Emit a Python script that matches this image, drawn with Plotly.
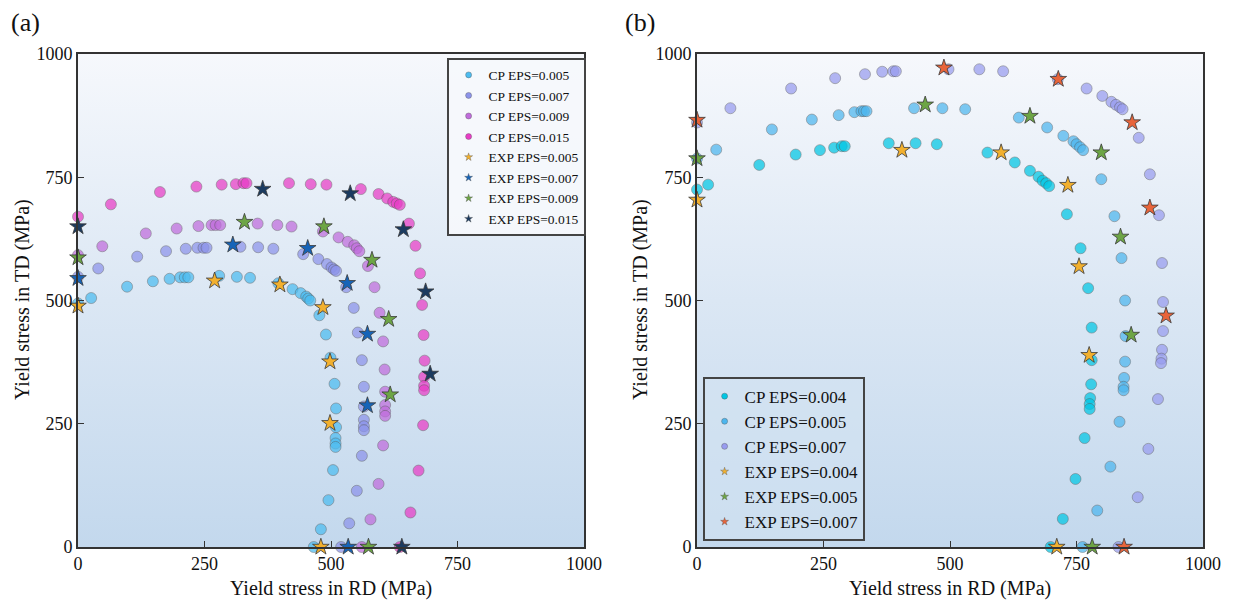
import plotly.graph_objects as go

# ---------------- Data: panel (a) ----------------
cp005_a_x = [0, 26, 97, 148, 181, 202, 211, 218, 279, 314, 340, 396, 424, 440, 451, 455, 459, 477, 490, 499, 507, 510, 510, 509, 509, 509, 504, 495, 480, 466]
cp005_a_y = [494, 505, 528, 539, 544, 547, 547, 547, 550, 548, 546, 535, 523, 515, 508, 504, 500, 470, 431, 384, 331, 281, 243, 221, 210, 203, 156, 95, 36, 0]
cp007_a_x = [0, 40, 117, 174, 213, 236, 248, 254, 321, 356, 386, 445, 475, 492, 501, 506, 510, 530, 545, 553, 561, 565, 565, 565, 565, 565, 561, 551, 536, 520]
cp007_a_y = [548, 565, 589, 600, 605, 607, 607, 607, 609, 608, 605, 594, 584, 574, 567, 563, 560, 527, 485, 435, 379, 325, 285, 258, 245, 237, 185, 114, 48, 0]
cp009_a_x = [0, 48, 134, 195, 238, 264, 272, 281, 355, 394, 422, 484, 515, 533, 546, 551, 556, 573, 586, 596, 603, 606, 607, 607, 607, 607, 603, 594, 578, 561]
cp009_a_y = [592, 610, 636, 646, 651, 653, 653, 653, 656, 653, 650, 640, 628, 619, 612, 606, 600, 570, 527, 475, 417, 360, 315, 288, 275, 266, 206, 128, 56, 0]
cp015_a_x = [0, 65, 162, 234, 284, 312, 327, 333, 417, 460, 491, 559, 594, 611, 623, 630, 636, 654, 667, 676, 680, 683, 685, 684, 684, 684, 682, 673, 657, 636]
cp015_a_y = [670, 695, 720, 731, 735, 736, 738, 738, 738, 736, 735, 726, 716, 707, 700, 697, 694, 656, 611, 555, 491, 430, 378, 345, 327, 318, 247, 155, 70, 0]

exp005_a_x = [0, 270, 399, 484, 498, 498, 480]
exp005_a_y = [489, 540, 532, 486, 376, 251, 0]
exp007_a_x = [0, 306, 454, 532, 572, 572, 534]
exp007_a_y = [545, 613, 606, 535, 432, 287, 0]
exp009_a_x = [0, 329, 486, 581, 614, 617, 574]
exp009_a_y = [587, 659, 650, 582, 462, 309, 0]
exp015_a_x = [0, 365, 538, 643, 687, 696, 640]
exp015_a_y = [650, 726, 717, 644, 518, 351, 0]

# ---------------- Data: panel (b) ----------------
cp004_b_x = [0, 22, 123, 195, 243, 271, 286, 292, 379, 432, 474, 574, 628, 658, 675, 683, 690, 696, 731, 758, 773, 780, 780, 779, 777, 776, 776, 766, 748, 723, 699]
cp004_b_y = [725, 735, 775, 796, 805, 810, 813, 813, 819, 819, 817, 800, 780, 763, 751, 743, 738, 732, 675, 606, 525, 445, 379, 330, 302, 290, 280, 221, 138, 57, 0]
cp005_b_x = [0, 38, 148, 227, 280, 311, 325, 330, 335, 429, 485, 530, 636, 692, 724, 744, 750, 757, 763, 799, 825, 839, 846, 847, 846, 844, 843, 843, 835, 817, 791, 762]
cp005_b_y = [788, 806, 847, 867, 876, 882, 884, 884, 884, 890, 890, 888, 871, 851, 834, 823, 817, 811, 805, 746, 671, 586, 500, 428, 376, 343, 325, 318, 254, 163, 74, 0]
cp007_b_x = [0, 66, 186, 273, 332, 366, 388, 393, 497, 558, 605, 713, 770, 801, 819, 828, 836, 841, 873, 895, 913, 919, 921, 921, 919, 918, 917, 911, 892, 871, 833]
cp007_b_y = [861, 890, 930, 951, 959, 964, 965, 965, 969, 969, 965, 949, 930, 915, 903, 897, 892, 888, 830, 756, 673, 576, 497, 438, 400, 382, 373, 300, 199, 101, 0]

exp004_b_x = [0, 405, 601, 733, 755, 775, 711]
exp004_b_y = [704, 805, 800, 734, 569, 389, 0]
exp005_b_x = [0, 451, 658, 799, 837, 858, 781]
exp005_b_y = [788, 897, 874, 800, 629, 430, 0]
exp007_b_x = [0, 488, 714, 860, 895, 927, 844]
exp007_b_y = [866, 972, 949, 861, 688, 469, 0]

tick_vals = [0, 250, 500, 750, 1000]
tick_text = ["0", "250", "500", "750", "1000"]
x_title = "Yield stress in RD (MPa)"
y_title = "Yield stress in TD (MPa)"

FONT = "Liberation Serif, Times New Roman, serif"

fig = go.Figure()

# background gradients
for xa, ya in (("x", "y"), ("x2", "y2")):
    fig.add_trace(go.Scatter(
        x=[0, 1000, 1000, 0, 0], y=[0, 0, 1000, 1000, 0],
        xaxis=xa, yaxis=ya, mode="none", fill="toself",
        fillgradient=dict(type="vertical",
                          colorscale=[[0, "#c3d8ed"], [0.5, "#dbe7f4"], [1, "#f6f8fc"]]),
        hoverinfo="skip", showlegend=False))


def cp(xs, ys, color, xa, ya):
    fig.add_trace(go.Scatter(
        x=xs, y=ys, xaxis=xa, yaxis=ya, mode="markers", cliponaxis=False,
        marker=dict(symbol="circle", size=11, color=color, opacity=0.72,
                    line=dict(width=0.8, color="rgba(80,80,80,0.7)")),
        showlegend=False))


def exp(xs, ys, color, xa, ya):
    fig.add_trace(go.Scatter(
        x=xs, y=ys, xaxis=xa, yaxis=ya, mode="markers", cliponaxis=False,
        marker=dict(symbol="star", size=12.5, color=color,
                    line=dict(width=0.8, color="#3a3a3a")),
        showlegend=False))


def leg(name, color, symbol, legend, size):
    fig.add_trace(go.Scatter(
        x=[None], y=[None], name=name, mode="markers", legend=legend,
        xaxis="x", yaxis="y",
        marker=dict(symbol=symbol, size=size, color=color,
                    line=dict(width=0.4, color="#555")),
        showlegend=True))


# panel (a)
c_a = ["#4cbcf0", "#8c93ea", "#c06cdc", "#e83cc6"]
e_a = ["#f2b02e", "#1664b8", "#6da545", "#1b3b60"]
cp(cp005_a_x, cp005_a_y, c_a[0], "x", "y")
cp(cp007_a_x, cp007_a_y, c_a[1], "x", "y")
cp(cp009_a_x, cp009_a_y, c_a[2], "x", "y")
cp(cp015_a_x, cp015_a_y, c_a[3], "x", "y")
exp(exp005_a_x, exp005_a_y, e_a[0], "x", "y")
exp(exp007_a_x, exp007_a_y, e_a[1], "x", "y")
exp(exp009_a_x, exp009_a_y, e_a[2], "x", "y")
exp(exp015_a_x, exp015_a_y, e_a[3], "x", "y")

# panel (b)
c_b = ["#00c6e4", "#4db6ee", "#989cef"]
e_b = ["#f2b02e", "#6da545", "#e8643a"]
cp(cp004_b_x, cp004_b_y, c_b[0], "x2", "y2")
cp(cp005_b_x, cp005_b_y, c_b[1], "x2", "y2")
cp(cp007_b_x, cp007_b_y, c_b[2], "x2", "y2")
exp(exp004_b_x, exp004_b_y, e_b[0], "x2", "y2")
exp(exp005_b_x, exp005_b_y, e_b[1], "x2", "y2")
exp(exp007_b_x, exp007_b_y, e_b[2], "x2", "y2")

# legend entries
for n, c in zip(["CP EPS=0.005", "CP EPS=0.007", "CP EPS=0.009", "CP EPS=0.015"], c_a):
    leg(n, c, "circle", "legend", 6)
for n, c in zip(["EXP EPS=0.005", "EXP EPS=0.007", "EXP EPS=0.009", "EXP EPS=0.015"], e_a):
    leg(n, c, "star", "legend", 6)
for n, c in zip(["CP EPS=0.004", "CP EPS=0.005", "CP EPS=0.007"], c_b):
    leg(n, c, "circle", "legend2", 6)
for n, c in zip(["EXP EPS=0.004", "EXP EPS=0.005", "EXP EPS=0.007"], e_b):
    leg(n, c, "star", "legend2", 6)

W, H = 1240, 603
OFF = 8  # page body margin


def px(x):
    return (x - OFF) / W


def py(y):
    return 1 - (y - OFF) / H


ydom = [py(547), py(54)]
xdom_a = [px(78), px(584)]
xdom_b = [px(697), px(1203)]

axis_common = dict(range=[0, 1000], tickvals=tick_vals, ticktext=tick_text,
                   ticks="inside", ticklen=6, tickwidth=1.3, tickcolor="#333",
                   showline=True, linecolor="#333", linewidth=1.6, mirror=True,
                   showgrid=False, zeroline=False, automargin=False,
                   tickfont=dict(family=FONT, size=18, color="#111"),
                   fixedrange=True)

title_font = dict(family=FONT, size=20, color="#111")

fig.update_layout(
    width=W, height=H,
    margin=dict(l=0, r=0, t=0, b=0, autoexpand=False),
    paper_bgcolor="white", plot_bgcolor="rgba(0,0,0,0)",
    font=dict(family=FONT, color="#111"),
    xaxis=dict(domain=xdom_a, anchor="y", **axis_common),
    yaxis=dict(domain=ydom, anchor="x", **axis_common),
    xaxis2=dict(domain=xdom_b, anchor="y2", **axis_common),
    yaxis2=dict(domain=ydom, anchor="x2", **axis_common),
    legend=dict(x=px(447), y=py(58), xanchor="left", yanchor="top",
                bgcolor="rgba(246,248,252,0.9)", bordercolor="#444", borderwidth=1.6,
                font=dict(family=FONT, size=13.5, color="#111"),
                itemwidth=30, tracegroupgap=0),
    legend2=dict(x=px(703), y=py(541), xanchor="left", yanchor="bottom",
                 bgcolor="rgba(210,226,242,0.6)", bordercolor="#444", borderwidth=1.6,
                 font=dict(family=FONT, size=17, color="#111"),
                 itemwidth=30, tracegroupgap=0),
    annotations=[
        dict(text="(a)", x=px(9), y=py(22), xref="paper", yref="paper",
             xanchor="left", yanchor="middle", showarrow=False,
             font=dict(family=FONT, size=26, color="#111")),
        dict(text="(b)", x=px(623), y=py(22), xref="paper", yref="paper",
             xanchor="left", yanchor="middle", showarrow=False,
             font=dict(family=FONT, size=26, color="#111")),
        dict(text=x_title, x=px(331), y=py(588), xref="paper", yref="paper",
             xanchor="center", yanchor="middle", showarrow=False, font=title_font),
        dict(text=x_title, x=px(950), y=py(588), xref="paper", yref="paper",
             xanchor="center", yanchor="middle", showarrow=False, font=title_font),
        dict(text=y_title, x=px(22), y=py(300), xref="paper", yref="paper",
             xanchor="center", yanchor="middle", showarrow=False, textangle=-90,
             font=title_font),
        dict(text=y_title, x=px(640), y=py(300), xref="paper", yref="paper",
             xanchor="center", yanchor="middle", showarrow=False, textangle=-90,
             font=title_font),
    ],
    showlegend=True,
)

fig.write_html("out.html")
